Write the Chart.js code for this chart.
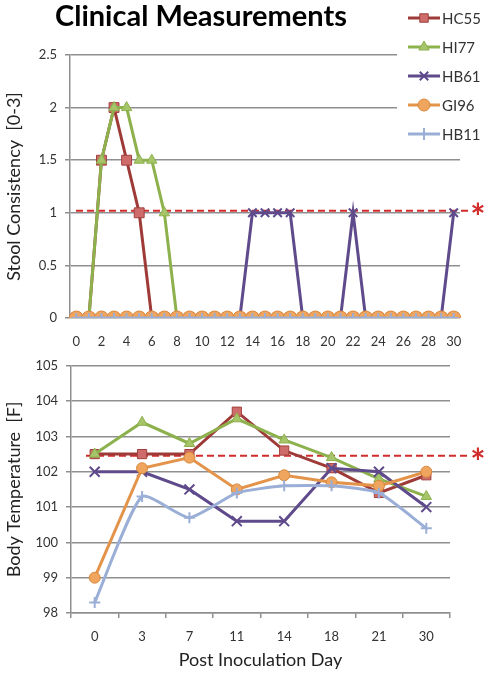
<!DOCTYPE html>
<html>
<head>
<meta charset="utf-8">
<script src="https://cdn.jsdelivr.net/npm/chart.js@4.4.0/dist/chart.umd.min.js"></script>
<style>
  body { margin: 0; background: #fff; width: 489px; height: 680px; position: relative; overflow: hidden; }
  #stoolChart { position: absolute; left: 0; top: 0; }
  #tempChart { position: absolute; left: 0; top: 350px; }
  #title { position: absolute; left: 55px; top: -3px; font: bold 29px Lato, sans-serif; color: #000; }
</style>
</head>
<body>
<canvas id="stoolChart" width="489" height="350"></canvas>
<canvas id="tempChart" width="489" height="330"></canvas>
<div id="title">Clinical Measurements</div>
<script>
document.addEventListener('DOMContentLoaded', function () {

  // series names, drawn in the legend in this order
  const seriesNames = ['HC55', 'HI77', 'HB61', 'GI96', 'HB11'];

  // stool consistency, one value per day 0..30
  const stoolDays = [0, 1, 2, 3, 4, 5, 6, 7, 8, 9, 10, 11, 12, 13, 14, 15, 16, 17, 18, 19, 20, 21, 22, 23, 24, 25, 26, 27, 28, 29, 30];
  const stoolHC55 = [0, 0, 1.5, 2, 1.5, 1, 0, 0, 0, 0, 0, 0, 0, 0, 0, 0, 0, 0, 0, 0, 0, 0, 0, 0, 0, 0, 0, 0, 0, 0, 0];
  const stoolHI77 = [0, 0, 1.5, 2, 2, 1.5, 1.5, 1, 0, 0, 0, 0, 0, 0, 0, 0, 0, 0, 0, 0, 0, 0, 0, 0, 0, 0, 0, 0, 0, 0, 0];
  const stoolHB61 = [0, 0, 0, 0, 0, 0, 0, 0, 0, 0, 0, 0, 0, 0, 1, 1, 1, 1, 0, 0, 0, 0, 1, 0, 0, 0, 0, 0, 0, 0, 1];
  const stoolGI96 = [0, 0, 0, 0, 0, 0, 0, 0, 0, 0, 0, 0, 0, 0, 0, 0, 0, 0, 0, 0, 0, 0, 0, 0, 0, 0, 0, 0, 0, 0, 0];
  const stoolHB11 = [0, 0, 0, 0, 0, 0, 0, 0, 0, 0, 0, 0, 0, 0, 0, 0, 0, 0, 0, 0, 0, 0, 0, 0, 0, 0, 0, 0, 0, 0, 0];
  const stoolThreshold = 1.02;

  // body temperature on selected days
  const tempDays = ['0', '3', '7', '11', '14', '18', '21', '30'];
  const tempHC55 = [102.5, 102.5, 102.5, 103.7, 102.6, 102.1, 101.4, 101.9];
  const tempHI77 = [102.5, 103.4, 102.8, 103.5, 102.9, 102.4, 101.8, 101.3];
  const tempHB61 = [102.0, 102.0, 101.5, 100.6, 100.6, 102.1, 102.0, 101.0];
  const tempGI96 = [99.0, 102.1, 102.4, 101.5, 101.9, 101.7, 101.6, 102.0];
  const tempHB11 = [98.3, 101.3, 100.7, 101.4, 101.6, 101.6, 101.4, 100.4];
  const tempThreshold = 102.45;

  // styles
  const lineColors = ['#9e3b39', '#8db14c', '#5f4b8b', '#e3934a', '#9aaed6'];
  const pointFills = ['#cd6c6a', '#a6c56a', '#5f4b8b', '#f0a55f', '#9aaed6'];
  const pointEdges = ['#a3403e', '#8db14c', '#5f4b8b', '#d9883c', '#9aaed6'];
  const pointStyles = ['rect', 'triangle', 'crossRot', 'circle', 'cross'];
  const drawOrder = [4, 3, 2, 1, 0]; // HB11 ends up on top
  const gridColor = '#8f8f8f';
  const textColor = '#333';
  const refColor = '#d22b2b';

  Chart.defaults.font.family = 'Lato, sans-serif';
  Chart.defaults.color = textColor;

  function makeDatasets(values, radii, tensions) {
    return values.map((v, i) => ({
      label: seriesNames[i],
      data: v,
      borderColor: lineColors[i],
      borderWidth: 3,
      backgroundColor: pointFills[i],
      pointBackgroundColor: pointFills[i],
      pointBorderColor: pointEdges[i],
      pointBorderWidth: (pointStyles[i] === 'cross' || pointStyles[i] === 'crossRot') ? 2 : 1,
      pointStyle: pointStyles[i],
      pointRadius: radii[i],
      tension: tensions[i],
      order: drawOrder[i],
    }));
  }

  // dashed threshold line with the red asterisk
  const refLine = {
    id: 'refLine',
    beforeDatasetsDraw(chart, args, opts) {
      const ctx = chart.ctx;
      const a = chart.chartArea;
      const y = chart.scales.y.getPixelForValue(opts.value);
      ctx.save();
      ctx.strokeStyle = refColor;
      ctx.lineWidth = 2;
      ctx.setLineDash([7, 4]);
      ctx.beginPath();
      ctx.moveTo(a.left + opts.startGap, y);
      ctx.lineTo(a.right + opts.endGap, y);
      ctx.stroke();
      ctx.setLineDash([]);
      ctx.fillStyle = refColor;
      ctx.font = 'bold 36px Lato, sans-serif';
      ctx.textAlign = 'center';
      ctx.textBaseline = 'middle';
      ctx.fillText('*', a.right + opts.starGap, y + 8);
      ctx.restore();
    }
  };

  // legend sitting at top right, over the upper gridlines
  const sideLegend = {
    id: 'sideLegend',
    afterDraw(chart, args, opts) {
      const ctx = chart.ctx;
      ctx.save();
      ctx.fillStyle = '#fff';
      ctx.fillRect(opts.x, 0, chart.width - opts.x, opts.boxBottom);
      chart.data.datasets.forEach((ds, i) => {
        const y = opts.top + i * opts.gap;
        ctx.strokeStyle = ds.borderColor;
        ctx.lineWidth = 3;
        ctx.beginPath();
        ctx.moveTo(opts.lineStart, y);
        ctx.lineTo(opts.lineStart + opts.lineLen, y);
        ctx.stroke();
        ctx.fillStyle = ds.pointBackgroundColor;
        ctx.strokeStyle = ds.pointBorderColor;
        ctx.lineWidth = ds.pointBorderWidth;
        if (Chart.helpers && Chart.helpers.drawPoint) {
          Chart.helpers.drawPoint(ctx, {
            pointStyle: ds.pointStyle, radius: 6, rotation: 0, borderWidth: ds.pointBorderWidth
          }, opts.lineStart + opts.lineLen / 2, y);
        }
        ctx.fillStyle = textColor;
        ctx.font = '15px Lato, sans-serif';
        ctx.textAlign = 'left';
        ctx.textBaseline = 'middle';
        ctx.fillText(ds.label, opts.lineStart + opts.lineLen + 2, y + 1);
      });
      ctx.restore();
    }
  };

  new Chart(document.getElementById('stoolChart'), {
    type: 'line',
    data: {
      labels: stoolDays,
      datasets: makeDatasets(
        [stoolHC55, stoolHI77, stoolHB61, stoolGI96, stoolHB11],
        [7, 6, 6, 7, 5],
        [0, 0, 0, 0, 0]
      ),
    },
    options: {
      responsive: false,
      animation: false,
      layout: { padding: { top: 55, right: 29, left: 0, bottom: 0 } },
      plugins: {
        legend: { display: false },
        tooltip: { enabled: false },
        refLine: { value: stoolThreshold, startGap: 6, endGap: 8, starGap: 18 },
        sideLegend: { x: 397, boxBottom: 145, top: 18, gap: 29, lineStart: 408, lineLen: 32 },
      },
      scales: {
        x: {
          offset: true,
          grid: { display: false, drawTicks: false },
          border: { display: false },
          ticks: {
            autoSkip: false, maxRotation: 0, padding: 16,
            font: { size: 13 },
            callback: (v, i) => (i % 2 === 0 ? stoolDays[i] : ''),
          },
          afterFit: (s) => { s.height = 32; },
        },
        y: {
          min: 0, max: 2.5,
          ticks: { stepSize: 0.5, padding: 8, font: { size: 13 }, callback: (v) => String(v) },
          grid: { color: gridColor, lineWidth: 1.5, tickLength: 5 },
          border: { color: gridColor, width: 1.5 },
          title: { display: true, text: 'Stool Consistency  [0-3]', font: { size: 18 }, color: '#222', padding: { top: 3, bottom: 0 } },
          afterFit: (s) => { s.width = 70; },
        },
      },
    },
    plugins: [refLine, sideLegend],
  });

  new Chart(document.getElementById('tempChart'), {
    type: 'line',
    data: {
      labels: tempDays,
      datasets: makeDatasets(
        [tempHC55, tempHI77, tempHB61, tempGI96, tempHB11],
        [6.5, 6, 7, 5.5, 5.5],
        [0, 0, 0, 0, 0.18]
      ),
    },
    options: {
      responsive: false,
      animation: false,
      layout: { padding: { top: 12, right: 39, left: 0, bottom: 0 } },
      plugins: {
        legend: { display: false },
        tooltip: { enabled: false },
        refLine: { value: tempThreshold, startGap: 15, endGap: 20, starGap: 28 },
      },
      scales: {
        x: {
          offset: true,
          grid: { offset: true, drawOnChartArea: false, tickLength: 5, color: gridColor, lineWidth: 1.5 },
          border: { color: gridColor, width: 1.5 },
          ticks: { padding: 11, maxRotation: 0, font: { size: 13 } },
          title: { display: true, text: 'Post Inoculation Day', font: { size: 18 }, color: '#222', padding: { top: 0, bottom: 9 } },
          afterFit: (s) => { s.height = 67; },
        },
        y: {
          min: 98, max: 105,
          ticks: { stepSize: 1, padding: 8, font: { size: 13 } },
          grid: { color: gridColor, lineWidth: 1.5, tickLength: 5 },
          border: { color: gridColor, width: 1.5 },
          title: { display: true, text: 'Body Temperature  [F]', font: { size: 18 }, color: '#222', padding: { top: 3, bottom: 0 } },
          afterFit: (s) => { s.width = 71; },
        },
      },
    },
    plugins: [refLine],
  });
});
</script>
</body>
</html>
